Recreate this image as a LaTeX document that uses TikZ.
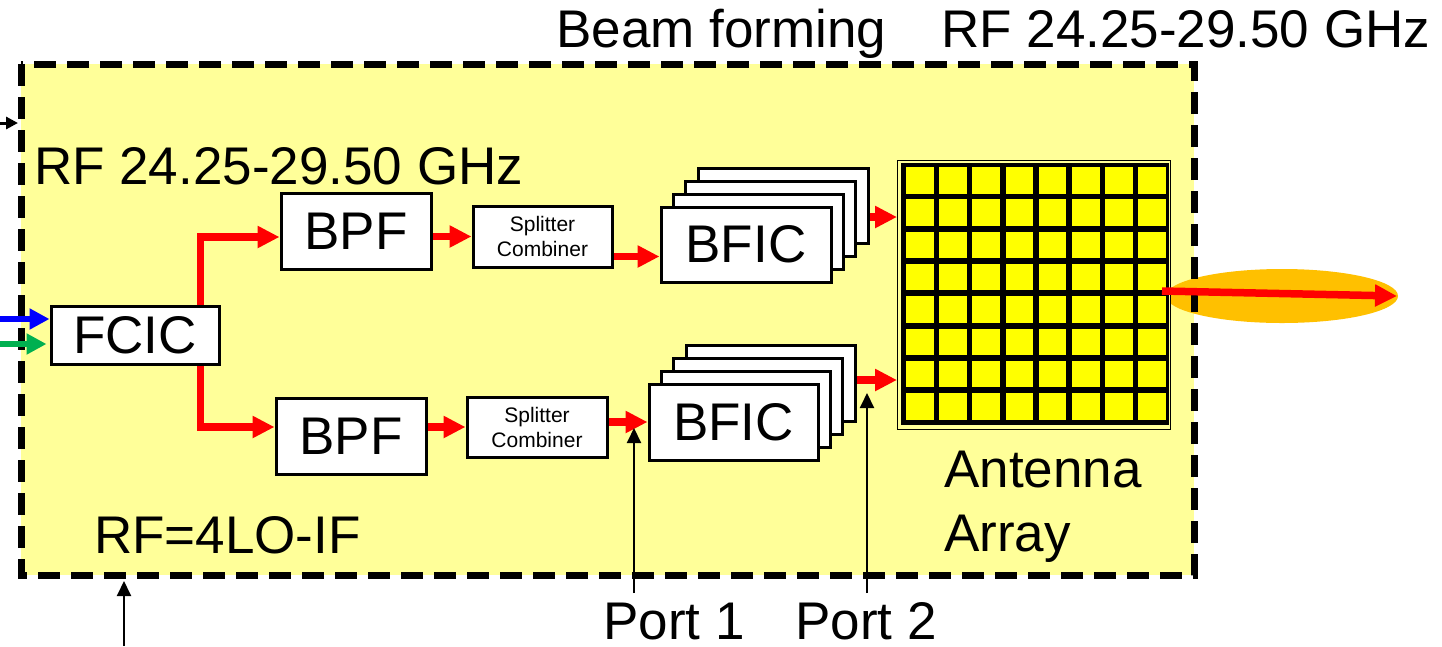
\documentclass[tikz,border=0pt]{standalone}
\usepackage{fontspec}
\setmainfont{Liberation Sans}
\usetikzlibrary{arrows.meta,calc}
\definecolor{boxyellow}{HTML}{FFFF99}
\definecolor{cellyellow}{HTML}{FFFF00}
\definecolor{beamorange}{HTML}{FFC000}
\definecolor{arrgreen}{HTML}{00B050}
\definecolor{arrblue}{HTML}{0000FF}
\begin{document}
\begin{tikzpicture}[x=1pt,y=-1pt,
  bigtext/.style={font=\fontsize{53}{63}\selectfont, inner sep=0, anchor=base west},
  blk/.style={draw=black, line width=3pt, fill=white, inner sep=0, font=\fontsize{53}{63}\selectfont},
  smallblk/.style={blk, font=\fontsize{21}{25}\selectfont, align=center},
  redarr/.style={draw=red, line width=7.5pt, -{Triangle[length=22pt,width=21pt]}},
  bluearr/.style={draw=arrblue, line width=6pt, -{Triangle[length=20pt,width=20pt]}},
  greenarr/.style={draw=arrgreen, line width=6pt, -{Triangle[length=20pt,width=20pt]}},
  blkarr/.style={draw=black, line width=2pt, -{Triangle[length=15pt,width=14pt]}},
  frame/.style={draw=black, line width=7pt, dash pattern=on 22pt off 11pt}
]
\useasboundingbox (0,0) rectangle (1442,646);

% frame fill, beam, frame stroke
\fill[boxyellow] (21,64) rectangle (1194,575);
\fill[beamorange] (1282,296) ellipse [x radius=116, y radius=27];
\draw[frame] (21,64) rectangle (1194,575);

% titles
\node[bigtext] (tbeam) at (556,47) {Beam forming};
\node[bigtext] (trf) at (941,47) {RF 24.25-29.50 GHz};
\node[bigtext] (trfin) at (34,184) {RF 24.25-29.50 GHz};
\node[bigtext] (tlo) at (94,553) {RF=4LO-IF};
\node[bigtext] (tant) at (944,487) {Antenna};
\node[bigtext] (tarr) at (944,551) {Array};
\node[bigtext] (port1) at (603,639) {Port 1};
\node[bigtext] (port2) at (795,639) {Port 2};

% blocks
\node[blk, minimum width=168pt, minimum height=58pt] (fcic) at (135,335.5) {FCIC};
\node[blk, minimum width=150pt, minimum height=76pt] (bpf1) at (356,231) {BPF};
\node[blk, minimum width=150pt, minimum height=76pt] (bpf2) at (351,436) {BPF};
\node[smallblk, minimum width=139pt, minimum height=61pt] (sc1) at (542.5,236.5) {Splitter\\Combiner};
\node[smallblk, minimum width=140pt, minimum height=60pt] (sc2) at (537,427) {Splitter\\Combiner};

% BFIC stacks
\node[blk, minimum width=170pt, minimum height=75pt] (b1d) at (783,205.5) {};
\node[blk, minimum width=170pt, minimum height=75pt] (b1c) at (770.7,218.5) {};
\node[blk, minimum width=170pt, minimum height=75pt] (b1b) at (758.3,231.5) {};
\node[blk, minimum width=170pt, minimum height=75pt] (b1a) at (746,244.5) {BFIC};

\node[blk, minimum width=169pt, minimum height=76pt] (b2d) at (770.5,383) {};
\node[blk, minimum width=169pt, minimum height=76pt] (b2c) at (758.2,396) {};
\node[blk, minimum width=169pt, minimum height=76pt] (b2b) at (745.8,409) {};
\node[blk, minimum width=169pt, minimum height=76pt] (b2a) at (733.5,422) {BFIC};

% antenna array
\node[draw=black, line width=1pt, fill=boxyellow, minimum width=273pt, minimum height=269pt, inner sep=0] (ant) at (1034,295) {};
\fill[black] (901,163) rectangle (1169,425);
\foreach \i in {0,...,7}
  \foreach \j in {0,...,7}
    \fill[cellyellow] ({906+\i*33.2},{167+\j*32.3}) rectangle ++(27.5,26.5);

% red signal arrows
\draw[redarr] ([xshift=-20pt]fcic.north east) |- ([yshift=-6pt]bpf1.west);
\draw[redarr] ([xshift=-20pt]fcic.south east) |- ([yshift=9pt]bpf2.west);
\draw[redarr] (bpf1.east |- sc1.west) -- (sc1.west);
\draw[redarr] (bpf2.east |- sc2.west) -- (sc2.west);
\draw[redarr] ([yshift=-20pt]sc1.east) -- ([yshift=-20pt]sc1.east -| b1a.west);
\draw[redarr] (sc2.east |- b2a.west) -- (b2a.west);
\draw[redarr] ([yshift=-11.5pt]b1d.east) -- ([yshift=-11.5pt]b1d.east -| ant.west);
\draw[redarr] ([yshift=3pt]b2d.east) -- ([yshift=3pt]b2d.east -| ant.west);

% beam arrow
\coordinate (beamS) at (1162,291);
\coordinate (beamE) at (1397,296);
\draw[redarr] (beamS) -- (beamE);

% inputs
\coordinate (inB) at (0,319);
\coordinate (inG) at (0,344);
\draw[bluearr] (inB) -- (fcic.west |- inB);
\draw[greenarr] (inG) -- ([xshift=-3pt]fcic.west |- inG);
\coordinate (inT) at (0,123);
\coordinate (inTe) at (18,123);
\draw[draw=black, line width=3pt, -{Triangle[length=12pt,width=12pt]}] (inT) -- (inTe);
\coordinate (inL) at (124,646);
\coordinate (inLe) at (124,581);
\draw[blkarr] (inL) -- (inLe);

% port arrows
\coordinate (p1s) at (634,593);
\coordinate (p1e) at (634,428);
\coordinate (p2s) at (867,593);
\coordinate (p2e) at (867,393);
\draw[blkarr] (p1s) -- (p1e);
\draw[blkarr] (p2s) -- (p2e);
\end{tikzpicture}
\end{document}
